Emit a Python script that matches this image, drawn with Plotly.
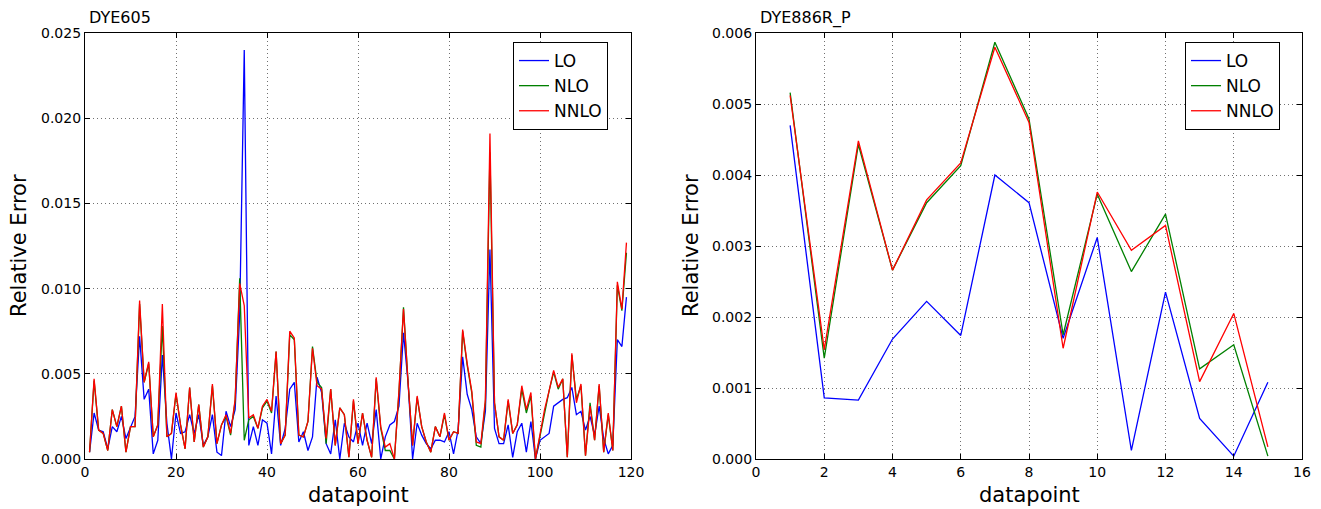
import plotly.graph_objects as go

W, H = 1321, 509
OFF = 8  # default page body margin in the written HTML

# ---------------- Data: DYE605 (datapoints 1..119) ----------------
dye605_x = list(range(1, 120))
dye605_lo = [
    0.0004, 0.0027, 0.0017, 0.0016, 0.0006, 0.0019, 0.0016, 0.0025, 0.0012, 0.0019,
    0.0025, 0.0072, 0.0035, 0.0041, 0.0003, 0.0011, 0.0061, 0.0021, 0.0000, 0.0027,
    0.0015, 0.0016, 0.0026, 0.0015, 0.0026, 0.0008, 0.0013, 0.0026, 0.0004, 0.0002,
    0.0028, 0.0019, 0.0029, 0.0085, 0.0240, 0.0008, 0.0019, 0.0008, 0.0023, 0.0021,
    0.0003, 0.0037, 0.0008, 0.0018, 0.0041, 0.0045, 0.0010, 0.0016, 0.0005, 0.0013,
    0.0048, 0.0039, 0.0009, 0.0003, 0.0023, 0.0000, 0.0021, 0.0013, 0.0010, 0.0021,
    0.0008, 0.0021, 0.0009, 0.0029, 0.0000, 0.0013, 0.0020, 0.0022, 0.0031, 0.0074,
    0.0045, 0.0000, 0.0021, 0.0014, 0.0009, 0.0006, 0.0011, 0.0011, 0.0010, 0.0016,
    0.0003, 0.0017, 0.0060, 0.0038, 0.0029, 0.0013, 0.0009, 0.0028, 0.0123, 0.0018,
    0.0009, 0.0009, 0.0020, 0.0001, 0.0016, 0.0021, 0.0004, 0.0022, 0.0000, 0.0011,
    0.0013, 0.0015, 0.0031, 0.0033, 0.0035, 0.0036, 0.0042, 0.0026, 0.0028, 0.0017,
    0.0025, 0.0014, 0.0031, 0.0012, 0.0003, 0.0008, 0.0070, 0.0066, 0.0095,
]
dye605_nnlo = [
    0.0004, 0.0047, 0.0017, 0.0015, 0.0005, 0.0029, 0.0019, 0.0031, 0.0004, 0.0019,
    0.0019, 0.0093, 0.0045, 0.0057, 0.0013, 0.0020, 0.0091, 0.0013, 0.0015, 0.0039,
    0.0020, 0.0006, 0.0042, 0.0010, 0.0032, 0.0007, 0.0013, 0.0044, 0.0009, 0.0020,
    0.0026, 0.0015, 0.0035, 0.0103, 0.0090, 0.0024, 0.0026, 0.0018, 0.0031, 0.0035,
    0.0028, 0.0063, 0.0009, 0.0014, 0.0075, 0.0071, 0.0014, 0.0013, 0.0022, 0.0065,
    0.0043, 0.0041, 0.0012, 0.0041, 0.0008, 0.0030, 0.0026, 0.0001, 0.0035, 0.0009,
    0.0027, 0.0011, 0.0001, 0.0048, 0.0019, 0.0007, 0.0009, 0.0000, 0.0040, 0.0088,
    0.0045, 0.0008, 0.0037, 0.0019, 0.0010, 0.0004, 0.0019, 0.0013, 0.0027, 0.0011,
    0.0016, 0.0015, 0.0076, 0.0056, 0.0040, 0.0010, 0.0009, 0.0035, 0.0191, 0.0033,
    0.0013, 0.0011, 0.0035, 0.0015, 0.0020, 0.0043, 0.0029, 0.0039, 0.0000, 0.0014,
    0.0029, 0.0040, 0.0052, 0.0042, 0.0047, 0.0001, 0.0062, 0.0033, 0.0044, 0.0002,
    0.0031, 0.0011, 0.0044, 0.0004, 0.0027, 0.0005, 0.0104, 0.0088, 0.0127,
]
dye605_nlo = [
    0.0004, 0.0046, 0.0017, 0.0015, 0.0005, 0.0029, 0.0019, 0.0031, 0.0004, 0.0019,
    0.0019, 0.0091, 0.0045, 0.0056, 0.0013, 0.0020, 0.0078, 0.0013, 0.0015, 0.0038,
    0.0020, 0.0006, 0.0042, 0.0010, 0.0032, 0.0007, 0.0013, 0.0043, 0.0009, 0.0020,
    0.0025, 0.0014, 0.0034, 0.0106, 0.0011, 0.0023, 0.0025, 0.0018, 0.0030, 0.0034,
    0.0027, 0.0063, 0.0009, 0.0014, 0.0073, 0.0070, 0.0014, 0.0013, 0.0022, 0.0066,
    0.0045, 0.0042, 0.0009, 0.0041, 0.0008, 0.0030, 0.0026, 0.0001, 0.0034, 0.0009,
    0.0027, 0.0011, 0.0001, 0.0047, 0.0018, 0.0005, 0.0005, 0.0000, 0.0039, 0.0089,
    0.0045, 0.0008, 0.0036, 0.0019, 0.0010, 0.0004, 0.0019, 0.0013, 0.0026, 0.0011,
    0.0016, 0.0015, 0.0075, 0.0055, 0.0039, 0.0008, 0.0007, 0.0033, 0.0180, 0.0033,
    0.0013, 0.0011, 0.0034, 0.0015, 0.0020, 0.0041, 0.0027, 0.0037, 0.0000, 0.0014,
    0.0026, 0.0040, 0.0051, 0.0041, 0.0047, 0.0001, 0.0061, 0.0035, 0.0043, 0.0002,
    0.0033, 0.0011, 0.0043, 0.0004, 0.0026, 0.0005, 0.0102, 0.0087, 0.0121,
]

# ---------------- Data: DYE886R_P (datapoints 1..15) ----------------
dye886_x = list(range(1, 16))
dye886_lo = [0.00470, 0.00086, 0.00083, 0.00169, 0.00222, 0.00174, 0.00400, 0.00361,
             0.00170, 0.00312, 0.00012, 0.00235, 0.00057, 0.00004, 0.00108]
dye886_nlo = [0.00516, 0.00142, 0.00443, 0.00266, 0.00361, 0.00413, 0.00587, 0.00479,
              0.00175, 0.00373, 0.00264, 0.00345, 0.00127, 0.00161, 0.00004]
dye886_nnlo = [0.00512, 0.00154, 0.00448, 0.00266, 0.00365, 0.00417, 0.00580, 0.00474,
               0.00156, 0.00376, 0.00294, 0.00329, 0.00109, 0.00205, 0.00017]

series_names = ["LO", "NLO", "NNLO"]
series_colors = ["#0000ff", "#008000", "#ff0000"]

panel_titles = ["DYE605", "DYE886R_P"]


def px(x):
    return (x - OFF) / W


def py(y):
    return 1 - (y - OFF) / H


fig = go.Figure()

left_sets = [dye605_lo, dye605_nlo, dye605_nnlo]
right_sets = [dye886_lo, dye886_nlo, dye886_nnlo]

for name, color, ys in zip(series_names, series_colors, left_sets):
    fig.add_trace(go.Scatter(x=dye605_x, y=ys, mode="lines", name=name,
                             line=dict(color=color, width=1.3),
                             xaxis="x", yaxis="y", legend="legend"))
for name, color, ys in zip(series_names, series_colors, right_sets):
    fig.add_trace(go.Scatter(x=dye886_x, y=ys, mode="lines", name=name,
                             line=dict(color=color, width=1.3),
                             xaxis="x2", yaxis="y2", legend="legend2"))

axis_common = dict(
    showline=True, linecolor="black", linewidth=1.2, mirror="ticks",
    ticks="inside", ticklen=5, tickcolor="black", automargin=False,
    showgrid=True, gridcolor="#707070", griddash="1px,3px", gridwidth=1,
    zeroline=False, tickfont=dict(family="DejaVu Sans", size=14, color="black"),
)

ydom = [py(459), py(33)]
fig.update_layout(
    width=W, height=H,
    margin=dict(l=0, r=0, t=0, b=0, autoexpand=False),
    paper_bgcolor="white", plot_bgcolor="white",
    font=dict(family="DejaVu Sans", color="black"),
    xaxis=dict(domain=[px(85), px(631)], range=[0, 120], dtick=20, anchor="y", **axis_common),
    yaxis=dict(domain=ydom, range=[0, 0.025], dtick=0.005, tickformat=".3f", anchor="x", **axis_common),
    xaxis2=dict(domain=[px(756), px(1302)], range=[0, 16], dtick=2, anchor="y2", **axis_common),
    yaxis2=dict(domain=ydom, range=[0, 0.006], dtick=0.001, tickformat=".3f", anchor="x2", **axis_common),
    legend=dict(x=px(513), y=py(42), xanchor="left", yanchor="top",
                bgcolor="white", bordercolor="black", borderwidth=1,
                font=dict(family="DejaVu Sans", size=17), tracegroupgap=0),
    legend2=dict(x=px(1185), y=py(42), xanchor="left", yanchor="top",
                 bgcolor="white", bordercolor="black", borderwidth=1,
                 font=dict(family="DejaVu Sans", size=17), tracegroupgap=0),
    showlegend=True,
)

annotations = [
    dict(text=panel_titles[0], x=px(87), y=py(18), xref="paper", yref="paper",
         xanchor="left", yanchor="middle", showarrow=False, font=dict(size=16)),
    dict(text=panel_titles[1], x=px(758), y=py(18), xref="paper", yref="paper",
         xanchor="left", yanchor="middle", showarrow=False, font=dict(size=16)),
    dict(text="datapoint", x=px(358), y=py(495), xref="paper", yref="paper",
         xanchor="center", yanchor="middle", showarrow=False, font=dict(size=21)),
    dict(text="datapoint", x=px(1030), y=py(495), xref="paper", yref="paper",
         xanchor="center", yanchor="middle", showarrow=False, font=dict(size=21)),
    dict(text="Relative Error", x=px(19), y=py(246), xref="paper", yref="paper",
         xanchor="center", yanchor="middle", showarrow=False, textangle=-90, font=dict(size=21)),
    dict(text="Relative Error", x=px(691), y=py(246), xref="paper", yref="paper",
         xanchor="center", yanchor="middle", showarrow=False, textangle=-90, font=dict(size=21)),
]
fig.update_layout(annotations=annotations)

fig.write_html("out.html")
